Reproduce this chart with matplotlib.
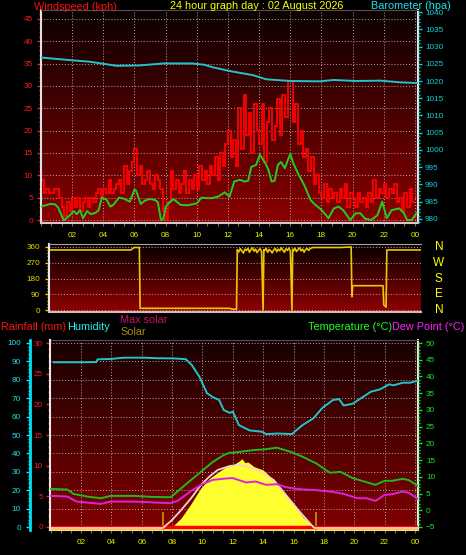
import matplotlib
matplotlib.use('Agg')
import matplotlib.pyplot as plt
import numpy as np
from matplotlib.colors import LinearSegmentedColormap
from matplotlib.ticker import MultipleLocator
from matplotlib import transforms

plt.rcParams['font.family'] = ['Liberation Sans', 'DejaVu Sans']

# ---------------- data ----------------
hour_ticks = [2, 4, 6, 8, 10, 12, 14, 16, 18, 20, 22, 24]
hour_labels = ['02', '04', '06', '08', '10', '12', '14', '16', '18', '20', '22', '00']

# wind gust, one value per 10 minutes (one row per hour)
gust_kph = [
    9, 6, 7, 6, 6, 7,
    7, 5, 3, 1, 4, 2,
    5, 3, 5, 2, 4, 5,
    3, 5, 4, 6, 7, 5,
    7, 6, 9, 6, 7, 8,
    9, 6, 12, 8, 11, 13,
    16, 10, 12, 8, 9, 11,
    8, 7, 10, 9, 7, 2,
    0, 4, 11, 7, 9, 6,
    8, 11, 6, 9, 7, 10,
    7, 12, 9, 11, 8, 12,
    10, 14, 9, 15, 12, 17,
    20, 14, 18, 12, 25, 16,
    28, 19, 24, 15, 26, 20,
    17, 26, 13, 22, 25, 18,
    21, 27, 19, 28, 23, 31,
    31, 22, 26, 17, 20, 14,
    16, 11, 14, 8, 10, 6,
    5, 8, 4, 7, 5, 6,
    4, 7, 5, 8, 3, 6,
    5, 3, 6, 4, 5, 3,
    6, 4, 9, 5, 7, 6,
    8, 5, 7, 6, 8, 4,
    5, 2, 6, 3, 7, 4,
]
gust_edges = np.arange(len(gust_kph) + 1) / 6.0

avg_t = [0.0, 0.3, 0.6, 0.9, 1.1, 1.3, 1.45, 1.6, 1.8, 2.1, 2.3, 2.5, 2.7, 2.95,
         3.2, 3.5, 3.7, 3.9, 4.2, 4.45, 4.65, 5.0, 5.3, 5.7, 6.0, 6.1, 6.4, 6.7,
         7.0, 7.3, 7.5, 7.7, 7.85, 8.0, 8.3, 8.5, 8.95, 9.4, 10.0, 10.3, 10.6,
         11.0, 11.4, 11.8, 12.1, 12.4, 12.75, 13.1, 13.3, 13.5, 13.8, 14.05,
         14.4, 14.6, 14.8, 15.0, 15.2, 15.4, 15.65, 16.0, 16.2, 16.5, 16.9,
         17.3, 17.6, 17.9, 18.2, 18.45, 18.8, 19.1, 19.4, 19.85, 20.2, 20.5,
         20.8, 21.2, 21.6, 21.9, 22.2, 22.5, 23.0, 23.3, 23.5, 23.8, 24.1]
avg_kph = [3.0, 3.3, 3.6, 3.5, 2.8, 1.2, 0.0, 0.3, 0.9, 2.0, 1.3, 2.2, 0.4, 2.0,
           1.3, 1.6, 2.2, 5.0, 4.6, 3.0, 3.4, 5.0, 4.8, 4.1, 6.8, 6.6, 3.6, 4.4,
           4.7, 4.5, 4.0, 0.0, 0.2, 3.0, 4.1, 4.7, 3.4, 3.3, 3.7, 5.0, 4.9,
           4.9, 5.3, 6.2, 5.2, 8.6, 9.0, 8.6, 8.8, 11.9, 12.3, 14.6,
           12.7, 11.2, 8.6, 8.8, 12.3, 13.0, 11.6, 14.8, 12.7, 10.4, 7.8,
           4.5, 3.4, 2.6, 1.5, 0.4, 2.6, 3.0, 2.2, 0.0, 1.5, 1.5,
           0.3, 0.0, 1.1, 4.1, 0.4, 2.2, 2.6, 1.5, 0.0, 0.0, 1.5]

baro_t = [0.0, 1.0, 2.0, 3.1, 4.0, 4.85, 6.3, 7.9, 9.7, 10.5, 11.0, 12.1, 13.6,
          14.45, 16.0, 17.9, 18.8, 20.2, 21.8, 23.1, 24.2]
baro_hpa = [1026.8, 1026.4, 1026.0, 1025.6, 1025.0, 1024.4, 1024.5, 1025.1,
            1025.1, 1024.7, 1024.0, 1022.9, 1021.7, 1020.5, 1020.0, 1019.9,
            1020.3, 1020.0, 1020.1, 1019.6, 1019.4]

dir_t = [0.0, 5.3, 5.4, 5.5, 5.85, 5.9, 11.8, 12.0, 12.25,
         12.3, 12.4, 12.5, 12.6, 12.7, 12.8, 12.9, 13.0, 13.1, 13.2, 13.3,
         13.4, 13.5, 13.6, 13.7, 13.8, 13.9, 14.0, 14.05, 14.1, 14.2, 14.3,
         14.4, 14.5, 14.6, 14.7, 14.8, 14.9, 15.0, 15.1, 15.2, 15.3, 15.4,
         15.5, 15.6, 15.7, 15.8, 15.9, 15.95, 16.0, 16.1, 16.2, 16.3, 16.4,
         16.5, 16.6, 16.7, 16.8, 16.9, 17.0, 17.1, 17.2, 17.3,
         19.1, 19.8, 19.85, 19.9, 21.9, 21.95, 22.1, 22.15, 24.4]
dir_deg = [343, 343, 350, 357, 357, 10, 10, 5, 5,
           345, 332, 350, 338, 325, 348, 340, 352, 330, 345, 355,
           336, 348, 328, 342, 350, 335, 0, 345, 340, 352, 330,
           346, 338, 326, 344, 352, 333, 348, 338, 355, 342, 330,
           350, 340, 354, 336, 0, 348, 338, 352, 334, 345, 355,
           338, 348, 330, 346, 352, 340, 350, 355, 357,
           357, 360, 76, 139, 139, 29, 17, 343, 343]

compass_labels = ['N', 'W', 'S', 'E', 'N']
compass_deg = [360, 270, 180, 90, 0]

hum_t = [0.2, 1.0, 2.0, 3.0, 3.1, 4.0, 4.8, 6.2, 7.0, 8.1, 8.9, 9.3, 9.8, 10.3,
         10.7, 11.1, 11.4, 11.8, 12.0, 12.4, 13.1, 13.9, 14.2, 15.0, 15.9,
         16.1, 16.6, 17.3, 17.9, 18.6, 19.0, 19.3, 19.9, 20.6, 21.1, 21.7,
         22.3, 22.6, 23.2, 23.7, 24.2]
hum_pct = [89.5, 89.5, 89.5, 89.6, 91.1, 91.3, 92.0, 92.0, 91.7, 91.6, 91.2,
           88.0, 81.7, 72.7, 70.5, 69.0, 63.6, 62.0, 62.7, 55.4, 52.5, 51.8,
           50.5, 50.8, 50.5, 52.0, 55.4, 59.0, 64.7, 69.0, 69.5, 66.0, 67.0,
           70.8, 73.5, 74.8, 77.5, 77.0, 78.4, 78.4, 79.6]

temp_t = [0.0, 1.1, 1.5, 2.4, 3.3, 3.95, 5.5, 6.6, 7.9, 8.1, 9.0, 9.9, 10.7,
          11.4, 11.8, 12.0, 13.4, 14.1, 14.9, 15.8, 16.6, 17.5, 18.4, 19.1,
          19.9, 20.8, 21.4, 22.0, 22.5, 23.2, 23.6, 24.2]
temp_c = [6.4, 6.2, 4.9, 4.1, 3.6, 4.3, 4.3, 4.0, 3.9, 4.6, 8.1, 11.5, 14.5,
          16.5, 17.2, 17.2, 18.0, 18.2, 18.7, 17.5, 16.0, 14.0, 11.2, 11.5,
          9.6, 8.4, 7.6, 8.8, 8.8, 9.4, 9.0, 7.3]

dew_t = [0.0, 1.1, 1.7, 3.3, 3.95, 5.5, 7.9, 8.4, 9.2, 9.9, 10.7, 11.8, 12.0,
         12.9, 13.5, 14.2, 14.9, 15.5, 16.4, 17.3, 18.4, 19.3, 20.2, 20.8,
         21.4, 22.0, 22.5, 23.2, 23.6, 24.2]
dew_c = [4.3, 4.1, 2.6, 1.9, 2.6, 2.6, 2.1, 2.9, 5.6, 7.6, 9.1, 9.6, 9.6, 8.3,
         8.6, 7.6, 7.8, 6.9, 6.3, 6.1, 5.6, 4.9, 3.6, 3.6, 2.8, 4.6, 4.8, 5.6,
         5.2, 3.4]

solar_t = [0.0, 7.4, 8.0, 8.6, 9.2, 9.9, 10.5, 11.1, 11.5, 12.0, 12.4, 12.6,
           12.8, 13.0, 13.4, 14.0, 14.7, 15.3, 15.9, 16.6, 17.3, 17.5, 24.2]
solar_w = [0, 0, 8, 75, 173, 300, 375, 424, 454, 473, 500, 520, 490, 495, 460,
           435, 360, 272, 197, 85, 10, 0, 0]

maxsol_t = [0.0, 7.4, 8.0, 8.6, 9.3, 9.9, 10.5, 11.0, 11.8, 12.4, 12.9, 13.8,
            14.7, 15.5, 16.4, 17.3, 17.4, 24.2]
maxsol_w = [0, 0, 60, 135, 230, 323, 390, 435, 465, 473, 465, 424, 360, 248,
            123, 8, 0, 0]

rain_t = [0.0, 24.2]
rain_mm = [0.0, 0.0]

sun_events = [7.4, 17.5]

# ---------------- helpers ----------------
W, H = 466.0, 555.0
fig = plt.figure(figsize=(W / 100, H / 100), dpi=100, facecolor='black')

TICK_FS = 5.9
HEAD_FS = 7.8
GRID = dict(color='#b8a8a8', linestyle=(0, (1, 2)), linewidth=0.7)
RED_LAB = '#ff1818'


def px_axes(left, top, right, bottom):
    return fig.add_axes([left / W, 1 - bottom / H, (right - left) / W, (bottom - top) / H])


def paint_background(ax, top, bottom):
    cmap = LinearSegmentedColormap.from_list('bg', [bottom, top])
    grad = np.linspace(0, 1, 256).reshape(-1, 1)
    ax.imshow(grad, cmap=cmap, aspect='auto', extent=(0, 1, 0, 1),
              origin='lower', transform=ax.transAxes, zorder=0)


def fig_text(x, y, s, color, ha='left', size=HEAD_FS):
    fig.text(x / W, 1 - y / H, s, color=color, fontsize=size, ha=ha, va='center')


def hide_axis(ax):
    ax.set_yticks([])
    for sp in ax.spines.values():
        sp.set_visible(False)


def style_frame(ax, left='#e0e0e0'):
    ax.spines['left'].set_color(left)
    ax.spines['left'].set_linewidth(1.5)
    ax.spines['bottom'].set_color('#d8c8c8')
    ax.spines['bottom'].set_linewidth(1.5)
    ax.spines['top'].set_color('#505050')
    ax.spines['right'].set_color('#e8e8e8')
    ax.spines['right'].set_linewidth(1.5)


def hour_axis(ax, pad=4.3):
    ax.set_xticks(hour_ticks)
    ax.set_xticklabels(hour_labels)
    ax.xaxis.set_minor_locator(MultipleLocator(2 / 3))
    ax.tick_params(axis='x', which='both', colors='#707070', labelcolor='#f0f000',
                   labelsize=TICK_FS, length=2.2, width=0.8, pad=pad)


# ---------------- top: wind + barometer ----------------
ax_w = px_axes(41, 10, 418, 223)
paint_background(ax_w, '#0c0000', '#8a0000')
ax_w.stairs(gust_kph, gust_edges, baseline=None, color='#ff0000', lw=1.3, zorder=2)
ax_w.plot(avg_t, avg_kph, color='#22cc22', lw=1.4, zorder=3)
ax_w.set_xlim(0, 24.2)
ax_w.set_ylim(-0.67, 47.0)
ax_w.set_yticks(range(0, 50, 5))
ax_w.yaxis.set_minor_locator(MultipleLocator(1))
ax_w.tick_params(axis='y', which='major', colors=RED_LAB, labelsize=TICK_FS,
                 length=2.9, width=1, pad=2.9)
ax_w.tick_params(axis='y', which='minor', colors=RED_LAB, length=1.5, width=1)
hour_axis(ax_w)
ax_w.grid(True, which='major', **GRID)
style_frame(ax_w)

ax_p = ax_w.twinx()
ax_p.plot(baro_t, baro_hpa, color='#22c4cc', lw=1.4)
ax_p.set_ylim(978.84, 1040.58)
ax_p.set_yticks(range(980, 1045, 5))
ax_p.yaxis.set_minor_locator(MultipleLocator(1))
ax_p.tick_params(axis='y', which='major', colors='#10d0d8', labelsize=TICK_FS,
                 length=2.9, width=1, pad=2.2)
ax_p.tick_params(axis='y', which='minor', colors='#10d0d8', length=1.5, width=1)
for sp in ax_p.spines.values():
    sp.set_visible(False)

fig_text(34, 7, 'Windspeed (kph)', '#ff1010')
fig_text(257, 6, '24 hour graph day : 02 August 2026', '#ffff00', ha='center')
fig_text(371, 6, 'Barometer (hpa)', '#20e0f0')

# ---------------- middle: wind direction ----------------
ax_m = px_axes(49, 244, 421, 312)
paint_background(ax_m, '#080000', '#900000')
ax_m.plot(dir_t, dir_deg, color='#e8c800', lw=1.2, zorder=3)
ax_m.set_xlim(-0.1, 24.4)
ax_m.set_ylim(-11, 377)
ax_m.set_xticks([])
ax_m.set_yticks([0, 90, 180, 270, 360])
ax_m.yaxis.set_minor_locator(MultipleLocator(18))
ax_m.tick_params(axis='y', which='major', colors='#e8d800', labelsize=TICK_FS,
                 length=2.9, width=1, pad=3.6)
ax_m.tick_params(axis='y', which='minor', colors='#e8d800', length=1.5, width=1)
ax_m.grid(True, axis='y', **GRID)
ax_m.spines['left'].set_color('#e8e8e8')
ax_m.spines['left'].set_linewidth(1.5)
ax_m.spines['top'].set_color('#a8a0a0')
ax_m.spines['bottom'].set_color('#d8b8b8')
ax_m.spines['bottom'].set_linewidth(1.5)
ax_m.spines['right'].set_visible(False)
blend = transforms.blended_transform_factory(ax_m.transAxes, ax_m.transData)
for lab, deg in zip(compass_labels, compass_deg):
    ax_m.text(1.048, deg, lab, transform=blend, color='#ffff00', fontsize=8.5,
              ha='center', va='center')

# ---------------- bottom: humidity, rain, solar, temperature ----------------
ax_b = px_axes(50, 340, 418, 530)
paint_background(ax_b, '#180000', '#820000')
ax_b.plot(hum_t, hum_pct, color='#20c4cc', lw=1.4, zorder=3)
ax_b.set_xlim(-0.04, 24.2)
ax_b.set_ylim(-1.6, 101.6)
ax_b.set_yticks(range(0, 110, 10))
ax_b.yaxis.set_minor_locator(MultipleLocator(2))
ax_b.tick_params(axis='y', which='major', colors='#20e0e8', labelsize=TICK_FS,
                 length=2.9, width=1, pad=3.6)
ax_b.tick_params(axis='y', which='minor', colors='#20e0e8', length=1.5, width=1)
hour_axis(ax_b)
ax_b.grid(True, which='major', **GRID)
style_frame(ax_b)
ax_b.spines['left'].set_position(('outward', 14.4))
ax_b.spines['left'].set_color('#00e0f0')
ax_b.spines['left'].set_linewidth(2)

ax_s = ax_b.twinx()
ax_s.fill_between(solar_t, solar_w, -15, color='#ffff30', lw=0)
ax_s.vlines(sun_events, -15, 120, color='#c89600', lw=1.2)
ax_s.set_ylim(-15, 1410)
hide_axis(ax_s)

ax_r = ax_b.twinx()
ax_r.plot(rain_t, rain_mm, color='#ff0000', lw=2.5)
ax_r.set_ylim(-0.49, 30.49)
ax_r.yaxis.tick_left()
ax_r.set_yticks(range(0, 35, 5))
ax_r.yaxis.set_minor_locator(MultipleLocator(1))
ax_r.tick_params(axis='y', which='major', colors=RED_LAB, labelsize=TICK_FS,
                 length=2.9, width=1, pad=2.2)
ax_r.tick_params(axis='y', which='minor', colors=RED_LAB, length=1.5, width=1)
for name, sp in ax_r.spines.items():
    sp.set_visible(name == 'left')
ax_r.spines['left'].set_color('#e8e8e8')
ax_r.spines['left'].set_linewidth(1.5)

ax_ms = ax_b.twinx()
ax_ms.plot(maxsol_t, maxsol_w, color='#f4d4cc', lw=1.3)
ax_ms.set_ylim(-15, 1410)
hide_axis(ax_ms)

ax_t = ax_b.twinx()
ax_t.plot(temp_t, temp_c, color='#20b820', lw=1.4)
ax_t.plot(dew_t, dew_c, color='#e020e0', lw=1.4)
ax_t.set_ylim(-5.9, 50.9)
ax_t.set_yticks(range(-5, 55, 5))
ax_t.yaxis.set_minor_locator(MultipleLocator(1))
ax_t.tick_params(axis='y', which='major', colors='#20e020', labelsize=TICK_FS,
                 length=2.9, width=1, pad=2.9)
ax_t.tick_params(axis='y', which='minor', colors='#20e020', length=1.5, width=1)
for sp in ax_t.spines.values():
    sp.set_visible(False)

fig_text(1, 327, 'Rainfall (mm)', '#ff1010')
fig_text(67, 327, 'Humidity', '#20f0f0')
fig_text(120, 320, 'Max solar', '#c8106a')
fig_text(120, 332, 'Solar', '#a09000')
fig_text(392, 327, 'Temperature (\u00b0C)', '#20ff20', ha='right')
fig_text(464, 327, 'Dew Point (\u00b0C)', '#ff20ff', ha='right')

fig.savefig('out.png', dpi=100, facecolor='black')
